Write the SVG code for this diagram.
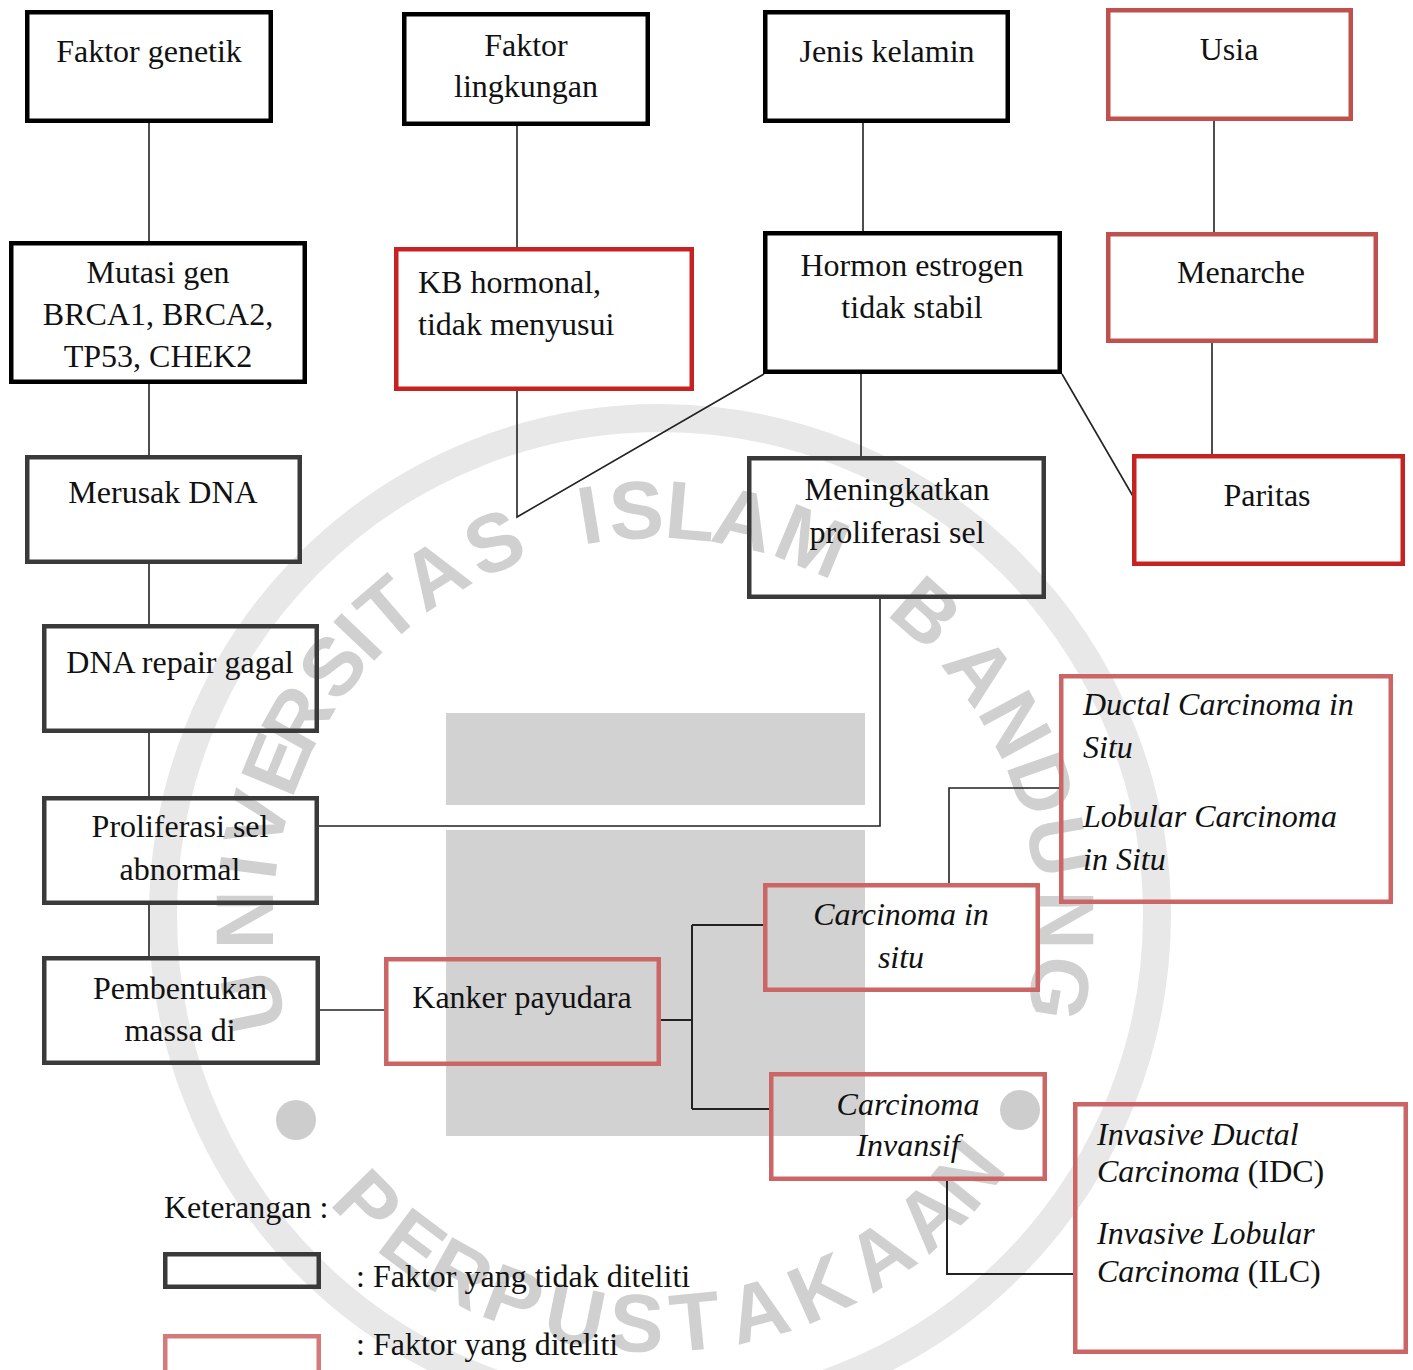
<svg xmlns="http://www.w3.org/2000/svg" width="1413" height="1370" viewBox="0 0 1413 1370">
<style>
.t{font-family:"Liberation Serif","Times New Roman",serif;font-size:32px;fill:#111}
.c{text-anchor:middle}
.i{font-style:italic}
.n{font-style:normal}
.bx{fill:none;stroke-width:4.5}
.k{stroke:#000}
.kg{stroke:#3a3a3a}
.r1{stroke:#c0504d}
.r2{stroke:#c62222}
.r3{stroke:#cc6666}
.ln{fill:none;stroke:#222;stroke-width:1.6}
.wm{font-family:"Liberation Sans",Arial,sans-serif;font-weight:bold;font-size:82px;fill:#d0d0d0;text-anchor:middle}
</style>
<rect width="1413" height="1370" fill="#fff"/>
<g id="watermark">
  <circle cx="660" cy="915" r="497" fill="none" stroke="#e8e8e8" stroke-width="28"/>
  <rect x="446" y="713" width="419" height="92" fill="#d2d2d2"/>
  <rect x="446" y="830" width="419" height="306" fill="#d2d2d2"/>
  <circle cx="296" cy="1120" r="20" fill="#cdcdcd"/>
  <circle cx="1020" cy="1110" r="20" fill="#cdcdcd"/>
  <g transform="translate(655,920)">
    <text class="wm" transform="rotate(258.5) translate(0,-412)" y="30">U</text>
    <text class="wm" transform="rotate(270) translate(0,-412)" y="30">N</text>
    <text class="wm" transform="rotate(277.5) translate(0,-412)" y="30">I</text>
    <text class="wm" transform="rotate(284.1) translate(0,-412)" y="30">V</text>
    <text class="wm" transform="rotate(292.4) translate(0,-412)" y="30">E</text>
    <text class="wm" transform="rotate(299.4) translate(0,-412)" y="30">R</text>
    <text class="wm" transform="rotate(308.2) translate(0,-412)" y="30">S</text>
    <text class="wm" transform="rotate(313.6) translate(0,-412)" y="30">I</text>
    <text class="wm" transform="rotate(319.3) translate(0,-412)" y="30">T</text>
    <text class="wm" transform="rotate(327.5) translate(0,-412)" y="30">A</text>
    <text class="wm" transform="rotate(336.9) translate(0,-412)" y="30">S</text>
    <text class="wm" transform="rotate(350.8) translate(0,-412)" y="30">I</text>
    <text class="wm" transform="rotate(357.4) translate(0,-412)" y="30">S</text>
    <text class="wm" transform="rotate(5) translate(0,-412)" y="30">L</text>
    <text class="wm" transform="rotate(12.5) translate(0,-412)" y="30">A</text>
    <text class="wm" transform="rotate(22.5) translate(0,-412)" y="30">M</text>
    <text class="wm" transform="rotate(41.4) translate(0,-412)" y="30">B</text>
    <text class="wm" transform="rotate(52.5) translate(0,-412)" y="30">A</text>
    <text class="wm" transform="rotate(61.5) translate(0,-412)" y="30">N</text>
    <text class="wm" transform="rotate(70.6) translate(0,-412)" y="30">D</text>
    <text class="wm" transform="rotate(79.7) translate(0,-412)" y="30">U</text>
    <text class="wm" transform="rotate(90) translate(0,-412)" y="30">N</text>
    <text class="wm" transform="rotate(99.6) translate(0,-412)" y="30">G</text>
    <text class="wm" transform="rotate(45.4) translate(0,402)" y="30">P</text>
    <text class="wm" transform="rotate(36.8) translate(0,402)" y="30">E</text>
    <text class="wm" transform="rotate(28.9) translate(0,402)" y="30">R</text>
    <text class="wm" transform="rotate(20.5) translate(0,402)" y="30">P</text>
    <text class="wm" transform="rotate(11.4) translate(0,402)" y="30">U</text>
    <text class="wm" transform="rotate(2.6) translate(0,402)" y="30">S</text>
    <text class="wm" transform="rotate(-5.7) translate(0,402)" y="30">T</text>
    <text class="wm" transform="rotate(-14.8) translate(0,402)" y="30">A</text>
    <text class="wm" transform="rotate(-24.2) translate(0,402)" y="30">K</text>
    <text class="wm" transform="rotate(-33.9) translate(0,402)" y="30">A</text>
    <text class="wm" transform="rotate(-42.9) translate(0,402)" y="30">A</text>
    <text class="wm" transform="rotate(-50.8) translate(0,402)" y="30">N</text>
  </g>
</g>
<g id="connectors">
  <path class="ln" d="M149,123V241"/>
  <path class="ln" d="M517,126V248"/>
  <path class="ln" d="M863,123V232"/>
  <path class="ln" d="M1214,121V233"/>
  <path class="ln" d="M149,384V456M149,563V626M149,732V797M149,904V957"/>
  <path class="ln" d="M517,391V517L764,374"/>
  <path class="ln" d="M861,374V457"/>
  <path class="ln" d="M1062,374L1134,498"/>
  <path class="ln" d="M1212,343V455"/>
  <path class="ln" d="M880,598V826H318"/>
  <path class="ln" d="M319,1010H385"/>
  <path class="ln" style="stroke-width:2" d="M660,1020H692M692,925V1109M692,925H764M692,1109H770"/>
  <path class="ln" d="M949,884V788H1060"/>
  <path class="ln" style="stroke-width:2" d="M947,1180V1274H1074"/>
</g>
<g id="n-faktor-genetik">
  <rect class="bx k" x="27.25" y="12.25" width="243.5" height="108.5"/>
  <text class="t c" x="149" y="62">Faktor genetik</text>
</g>
<g id="n-faktor-lingkungan">
  <rect class="bx k" x="404.25" y="14.25" width="243.5" height="109.5"/>
  <text class="t c" x="526" y="56">Faktor</text>
  <text class="t c" x="526" y="97">lingkungan</text>
</g>
<g id="n-jenis-kelamin">
  <rect class="bx k" x="765.25" y="12.25" width="242.5" height="108.5"/>
  <text class="t c" x="887" y="62">Jenis kelamin</text>
</g>
<g id="n-usia">
  <rect class="bx r1" x="1108.25" y="10.25" width="242.5" height="108.5"/>
  <text class="t c" x="1229" y="60">Usia</text>
</g>
<g id="n-mutasi">
  <rect class="bx k" x="11.25" y="243.25" width="293.5" height="138.5"/>
  <text class="t c" x="158" y="283">Mutasi gen</text>
  <text class="t c" x="158" y="325">BRCA1, BRCA2,</text>
  <text class="t c" x="158" y="367">TP53, CHEK2</text>
</g>
<g id="n-kb">
  <rect class="bx r2" x="396.25" y="249.25" width="295.5" height="139.5"/>
  <text class="t" x="418" y="293">KB hormonal,</text>
  <text class="t" x="418" y="335">tidak menyusui</text>
</g>
<g id="n-hormon">
  <rect class="bx k" x="765.25" y="233.25" width="294.5" height="138.5"/>
  <text class="t c" x="912" y="276">Hormon estrogen</text>
  <text class="t c" x="912" y="318">tidak stabil</text>
</g>
<g id="n-menarche">
  <rect class="bx r1" x="1108.25" y="234.25" width="267.5" height="106.5"/>
  <text class="t c" x="1241" y="283">Menarche</text>
</g>
<g id="n-paritas">
  <rect class="bx r2" x="1134.25" y="456.25" width="268.5" height="107.5"/>
  <text class="t c" x="1267" y="506">Paritas</text>
</g>
<g id="n-meningkatkan">
  <rect class="bx kg" x="749.25" y="458.25" width="294.5" height="138.5"/>
  <text class="t c" x="897" y="500">Meningkatkan</text>
  <text class="t c" x="897" y="543">proliferasi sel</text>
</g>
<g id="n-merusak">
  <rect class="bx kg" x="27.25" y="457.25" width="272.5" height="104.5"/>
  <text class="t c" x="163" y="503">Merusak DNA</text>
</g>
<g id="n-dna-repair">
  <rect class="bx kg" x="44.25" y="626.25" width="272.5" height="104.5"/>
  <text class="t c" x="180" y="673">DNA repair gagal</text>
</g>
<g id="n-proliferasi">
  <rect class="bx kg" x="44.25" y="798.25" width="272.5" height="104.5"/>
  <text class="t c" x="180" y="837">Proliferasi sel</text>
  <text class="t c" x="180" y="880">abnormal</text>
</g>
<g id="n-pembentukan">
  <rect class="bx kg" x="44.25" y="958.25" width="273.5" height="104.5"/>
  <text class="t c" x="180" y="999">Pembentukan</text>
  <text class="t c" x="180" y="1041">massa di</text>
</g>
<g id="n-kanker">
  <rect class="bx r3" x="386.25" y="959.25" width="272.5" height="104.5"/>
  <text class="t c" x="522" y="1008">Kanker payudara</text>
</g>
<g id="n-cis">
  <rect class="bx r3" x="765.25" y="885.25" width="272.5" height="104.5"/>
  <text class="t c i" x="901" y="925">Carcinoma in</text>
  <text class="t c i" x="901" y="968">situ</text>
</g>
<g id="n-dcis-lcis">
  <rect class="bx r3" x="1061.25" y="676.25" width="329.5" height="225.5"/>
  <text class="t i" x="1083" y="715">Ductal Carcinoma in</text>
  <text class="t i" x="1083" y="758">Situ</text>
  <text class="t i" x="1083" y="827">Lobular Carcinoma</text>
  <text class="t i" x="1083" y="870">in Situ</text>
</g>
<g id="n-invasif">
  <rect class="bx r3" x="771.25" y="1074.25" width="273.5" height="104.5"/>
  <text class="t c i" x="908" y="1115">Carcinoma</text>
  <text class="t c i" x="908" y="1156">Invansif</text>
</g>
<g id="n-idc-ilc">
  <rect class="bx r3" x="1075.25" y="1104.25" width="330.5" height="247.5"/>
  <text class="t i" x="1097" y="1145">Invasive Ductal</text>
  <text class="t i" x="1097" y="1182">Carcinoma <tspan class="n">(IDC)</tspan></text>
  <text class="t i" x="1097" y="1244">Invasive Lobular</text>
  <text class="t i" x="1097" y="1282">Carcinoma <tspan class="n">(ILC)</tspan></text>
</g>
<g id="legend">
  <text class="t" x="164" y="1218">Keterangan :</text>
  <rect class="bx kg" x="165.25" y="1254.25" width="153.5" height="32.5"/>
  <text class="t" x="356" y="1287">: Faktor yang tidak diteliti</text>
  <rect class="bx" style="stroke:#d47a7a" x="165.25" y="1336.25" width="153.5" height="40"/>
  <text class="t" x="356" y="1355">: Faktor yang diteliti</text>
</g>
</svg>
